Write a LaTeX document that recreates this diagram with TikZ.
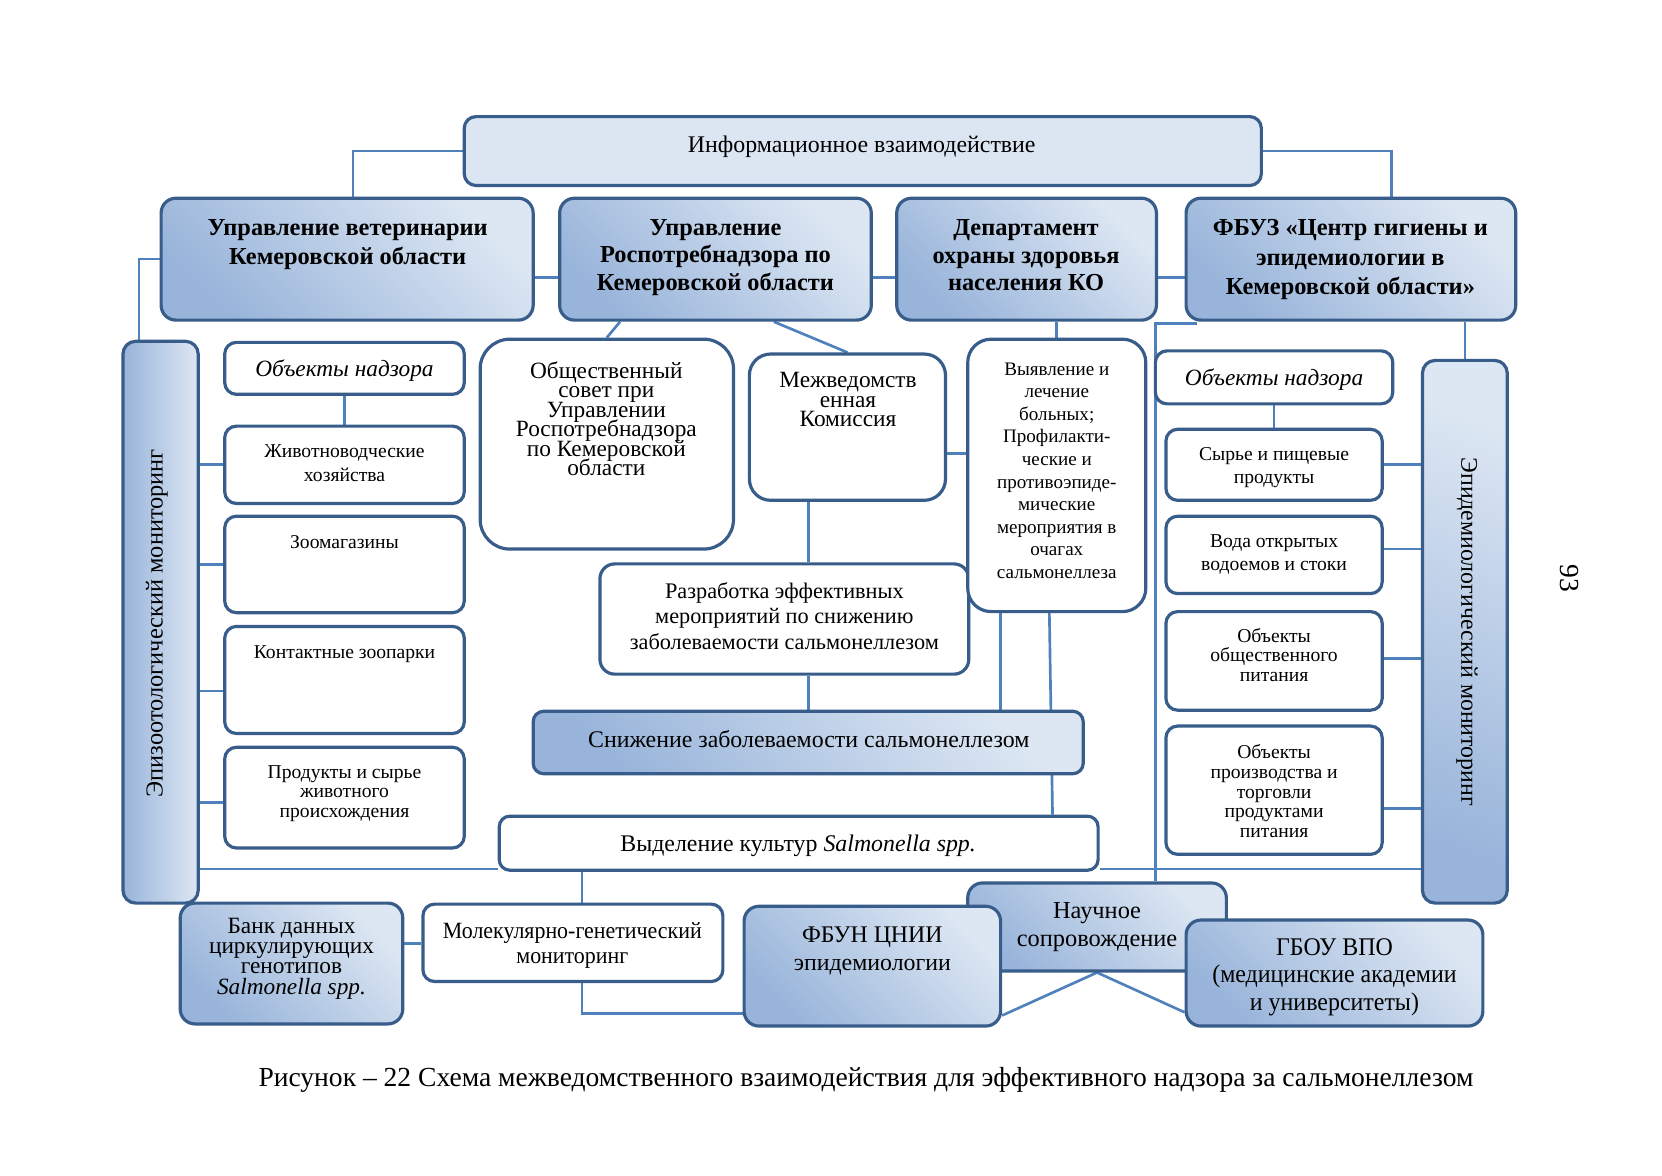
\documentclass[tikz,border=0pt]{standalone}
\usepackage{fontspec}
\setmainfont{Liberation Serif}
\newfontfamily\condb[FakeStretch=0.94]{Liberation Serif}
\usetikzlibrary{fit,backgrounds}
\definecolor{bord}{HTML}{385D8A}
\definecolor{conn}{HTML}{4F81BD}
\definecolor{lite}{HTML}{DDE7F3}
\definecolor{dark}{HTML}{98B4DA}
\definecolor{infofill}{HTML}{DCE6F2}
\newcommand{\fs}[2]{\fontsize{#1}{#2}\selectfont\lineskiplimit=-30pt\relax}
\begin{document}
\begin{tikzpicture}[x=1pt,y=-1pt,
  boxw/.style={draw=bord, line width=3pt, fill=white, rounded corners=11pt, inner sep=0pt},
  boxg/.style={draw=bord, line width=3pt, rounded corners=14pt, inner sep=0pt,
     top color=lite, bottom color=dark, shading angle=-45},
  boxi/.style={draw=bord, line width=3pt, rounded corners=11pt, inner sep=0pt, fill=infofill},
  link/.style={draw=conn, line width=2.5pt},
  txt/.style={align=center, inner sep=0pt, text=black},
]
\useasboundingbox (0,0) rectangle (1568,1109);
% level coordinates
\foreach \n/\v in {L262/262,L428/428,L652/652,L757/757,L820/820,L890/890,L956/956,L958/958,L955/955,L438/438,L518/518,L621/621,L763/763}
  {\coordinate (\n) at (0,\v);}
\foreach \n/\v in {X763/763,X944/944,X990/990,X993/993,X549/549,X1090/1090}
  {\coordinate (\n) at (\v,0);}

% boxes
\node[boxi, fit={(438,110) (1190,175)}] (info) {};
\node[boxg, fit={(152,187) (503,302)}] (vet) {};
\node[boxg, fit={(528,187) (822,302)}] (rosp) {};
\node[boxg, fit={(846,187) (1091,302)}] (dept) {};
\node[boxg, fit={(1119,187) (1430,302)}] (fbuz) {};
\node[boxg, rounded corners=12pt, left color=dark, right color=lite, fit={(116,322) (187,852)}] (epizoo) {};
\node[boxw, fit={(212,323) (438,372)}] (obsL) {};
\node[boxw, fit={(212,402) (438,475)}] (zhiv) {};
\node[boxw, fit={(212,487) (438,578)}] (zoomag) {};
\node[boxw, fit={(212,591) (438,692)}] (kont) {};
\node[boxw, fit={(212,705) (438,800)}] (prod) {};
\node[boxw, rounded corners=28pt, fit={(453,320) (692,518)}] (obsh) {};
\node[boxw, rounded corners=20pt, fit={(707,334) (892,472)}] (mezh) {};
\node[boxw, rounded corners=14pt, fit={(566,532) (914,636)}] (razr) {};
\node[boxg, rounded corners=10pt, fit={(503,671) (1022,730)}] (snizh) {};
\node[boxw, rounded corners=22pt, fit={(913,320) (1081,577)}] (vyav) {};
\node[boxw, rounded corners=10pt, fit={(471,770) (1036,821)}] (vydel) {};
\node[boxw, fit={(1090,331) (1314,381)}] (obsR) {};
\node[boxw, fit={(1100,405) (1304,472)}] (syr) {};
\node[boxw, fit={(1100,487) (1304,560)}] (voda) {};
\node[boxw, fit={(1100,577) (1304,670)}] (pit) {};
\node[boxw, fit={(1100,685) (1304,806)}] (proizv) {};
\node[boxg, rounded corners=12pt, shading angle=-20, fit={(1342,340) (1422,852)}] (epid) {};
\node[boxg, fit={(170,852) (380,966)}] (bank) {};
\node[boxw, fit={(399,853) (682,926)}] (molek) {};
\node[boxg, fit={(913,833) (1157,916)}] (nauch) {};
\node[boxg, fit={(702,855) (944,968)}] (fbun) {};
\node[boxg, fit={(1119,868) (1399,968)}] (gbou) {};

% texts
\node[txt, font=\fs{22.5}{27}] (info-t) at (813,138) {Информационное взаимодействие};
\node[txt, font=\bfseries\fs{23}{27}] (vet-t) at (328,230.5) {Управление ветеринарии\\Кемеровской области};
\node[txt, font=\bfseries\fs{23}{26}] (rosp-t) at (675,243) {Управление\\Роспотребнадзора по\\Кемеровской области};
\node[txt, font=\bfseries\fs{23}{26}] (dept-t) at (968,241) {Департамент\\охраны здоровья\\населения КО};
\node[txt, font=\bfseries\fs{23}{28}] (fbuz-t) at (1274,245) {ФБУЗ «Центр гигиены и\\эпидемиологии в\\Кемеровской области»};
\node[txt, font=\fs{23}{27}, rotate=90] (epizoo-t) at (148,588) {Эпизоотологический мониторинг};
\node[txt, font=\itshape\fs{22}{26}] (obsL-t) at (325,350) {Объекты надзора};
\node[txt, font=\fs{18.5}{22}] (zhiv-t) at (325,437) {Животноводческие\\хозяйства};
\node[txt, font=\fs{18.5}{22}] (zoomag-t) at (325,511) {Зоомагазины};
\node[txt, font=\fs{18.5}{22}] (kont-t) at (325,617) {Контактные зоопарки};
\node[txt, font=\fs{18.5}{18.5}] (prod-t) at (325,748.5) {Продукты и сырье\\животного\\происхождения};
\node[txt, font=\fs{22}{18.4}] (obsh-t) at (572,395) {Общественный\\совет при\\Управлении\\Роспотребнадзора\\по Кемеровской\\области};
\node[txt, font=\fs{22}{18.5}] (mezh-t) at (800,377) {Межведомств\\енная\\Комиссия};
\node[txt, font=\fs{21}{24}] (razr-t) at (740,581) {Разработка эффективных\\мероприятий по снижению\\заболеваемости сальмонеллезом};
\node[txt, font=\fs{22.5}{27}] (snizh-t) at (763,697) {Снижение заболеваемости сальмонеллезом};
\node[txt, font=\fs{18}{21.3}] (vyav-t) at (997,444) {Выявление и\\лечение\\больных;\\Профилакти-\\ческие и\\противоэпиде-\\мические\\мероприятия в\\очагах\\сальмонеллеза};
\node[txt, font=\fs{22.5}{27}] (vydel-t) at (753,798) {Выделение культур \textit{Salmonella spp.}};
\node[txt, font=\itshape\fs{22}{26}] (obsR-t) at (1202,358) {Объекты надзора};
\node[txt, font=\fs{18.5}{22}] (syr-t) at (1202,441) {Сырье и пищевые\\продукты};
\node[txt, font=\fs{18.5}{22}] (voda-t) at (1202,523) {Вода открытых\\водоемов и стоки};
\node[txt, font=\fs{18.5}{18.5}] (pit-t) at (1202,618) {Объекты\\общественного\\питания};
\node[txt, font=\fs{18.5}{18.5}] (proizv-t) at (1202,746.5) {Объекты\\производства и\\торговли\\продуктами\\питания};
\node[txt, font=\fs{22.5}{27}, rotate=-90] (epid-t) at (1384,596) {Эпидемиологический мониторинг};
\node[txt, font=\fs{22}{19}] (bank-t) at (275,904.5) {Банк данных\\циркулирующих\\генотипов\\\textit{Salmonella spp.}};
\node[txt, font=\condb\fs{22}{24}] (molek-t) at (540,892) {Молекулярно-генетический\\мониторинг};
\node[txt, font=\fs{22.5}{26}] (fbun-t) at (823,897) {ФБУН ЦНИИ\\эпидемиологии};
\node[txt, font=\fs{23}{27}] (nauch-t) at (1035,874.5) {Научное\\сопровождение};
\node[txt, font=\condb\fs{24}{26}] (gbou-t) at (1259,922) {ГБОУ ВПО\\(медицинские академии\\и университеты)};
\node[txt, font=\fs{26}{30}] (caption) at (817,1019) {Рисунок – 22 Схема межведомственного взаимодействия для эффективного надзора за сальмонеллезом};
\node[txt, font=\fs{26}{30}, rotate=-90] (pagenum) at (1481,546) {93};

% connectors
\begin{scope}[on background layer]
\fill[white] (0,0) rectangle (1568,1109);
\draw[link] (info.west) -| ([xshift=5.5pt]vet.north);
\draw[link] (info.east) -| ([xshift=38.5pt]fbuz.north);
\draw[link] (vet.east |- L262) -- (rosp.west |- L262);
\draw[link] (rosp.east |- L262) -- (dept.west |- L262);
\draw[link] (dept.east |- L262) -- (fbuz.west |- L262);
\draw[link] ([xshift=-90pt]rosp.south) -- (obsh.north);
\draw[link] ([xshift=55pt]rosp.south) -- (mezh.north);
\draw[link] (vyav.north |- dept.south) -- (vyav.north);
\draw[link] (epid.north |- fbuz.south) -- (epid.north);
\draw[link] ([xshift=12pt,yshift=-2pt]fbuz.south west) -| (X1090 |- nauch.north);
\draw[link] (vet.west) -| ([xshift=-20.5pt]epizoo.north);
\draw[link] (obsL.south) -- (zhiv.north);
\draw[link] (epizoo.east |- zhiv.west) -- (zhiv.west);
\draw[link] (epizoo.east |- zoomag.west) -- (zoomag.west);
\draw[link] (epizoo.east |- L652) -- (kont.west |- L652);
\draw[link] (epizoo.east |- L757) -- (prod.west |- L757);
\draw[link] (X763 |- mezh.south) -- (X763 |- razr.north);
\draw[link] (X763 |- razr.south) -- (X763 |- snizh.north);
\draw[link] (mezh.east |- L428) -- (vyav.west |- L428);
\draw[link] (X944 |- vyav.south) -- (X944 |- snizh.north);
\draw[link] (X990 |- vyav.south) -- (X993 |- vydel.north);
\draw[link] (epizoo.east |- L820) -- (vydel.west |- L820);
\draw[link] (vydel.east |- L820) -- (epid.west |- L820);
\draw[link] (X549 |- vydel.south) -- (X549 |- molek.north);
\draw[link] (bank.east |- L890) -- (molek.west |- L890);
\draw[link] (X549 |- molek.south) |- (fbun.west |- L956);
\draw[link] (nauch.south) -- (fbun.east |- L958);
\draw[link] (nauch.south) -- (gbou.west |- L955);
\draw[link] (obsR.south) -- (syr.north);
\draw[link] (syr.east |- L438) -- (epid.west |- L438);
\draw[link] (voda.east |- L518) -- (epid.west |- L518);
\draw[link] (pit.east |- L621) -- (epid.west |- L621);
\draw[link] (proizv.east |- L763) -- (epid.west |- L763);
\end{scope}
\end{tikzpicture}
\end{document}
